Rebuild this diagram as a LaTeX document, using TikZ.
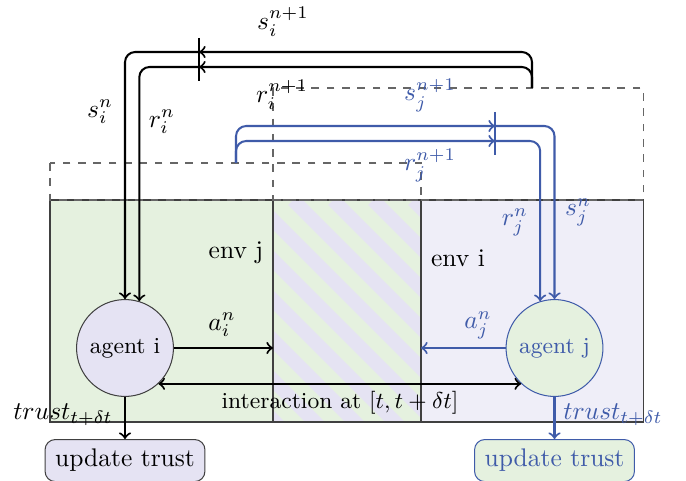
\documentclass[tikz,border=0pt]{standalone}
\usepackage{amsmath}
\usepackage{amssymb}
\usetikzlibrary{positioning, arrows}
\definecolor{envGreen}{RGB}{229,241,223}
\definecolor{envLav}{RGB}{229,227,243}
\definecolor{envLavLight}{RGB}{239,238,248}
\definecolor{agentBlue}{RGB}{63,91,169}
\tikzstyle{agentNode} = [circle, thin, draw=darkgray, minimum size=38pt,
   inner sep=0pt, font=\small]
\tikzstyle{trustBox} = [rectangle, thin, draw=darkgray, rounded corners=4pt,
   minimum width=62.7pt, minimum height=16.5pt, inner sep=0pt]
\tikzstyle{obsLine} = [->, rounded corners=4pt]
\tikzstyle{prevWindow} = [thin, dashed, gray!80!black]

\begin{document}
\begin{tikzpicture}[x=0.3922pt, y=-0.3922pt, thick, >=to]
	  \useasboundingbox (0,0) rectangle (686,481);

	  % environments
	  \fill[envGreen] (50,200) rectangle (273,422);
	  \fill[envLavLight] (421,200) rectangle (643,422);
	  \begin{scope}
	    \clip (273,200) rectangle (421,422);
	    \fill[envGreen] (273,200) rectangle (421,422);
	    \foreach \k in {-7,...,4}
	      \draw[envLav, line width=5.5pt] (293+40*\k,200) -- ++(300,300);
	  \end{scope}
	  \draw[thin, darkgray] (50,200) rectangle (643,422);
	  \draw[thin, darkgray] (273,200) -- (273,422) (421,200) -- (421,422);

	  % previous steps
	  \draw[prevWindow] (50,163) rectangle (421,200);
	  \draw[prevWindow] (273,88) rectangle (643,200);

	  \node[agentNode, fill=envLav] (ai) at (125,348) {agent i};
	  \node[agentNode, fill=envGreen, draw=agentBlue, text=agentBlue] (aj) at (554.5,348) {agent j};
	  \node[trustBox, fill=envLav, below=16.5pt of ai] (ti) {update trust};
	  \node[trustBox, fill=envGreen, draw=agentBlue, text=agentBlue, below=16.5pt of aj] (tj) {update trust};
	  \node (ej) at (236,253) {env j};
	  \node (ei) at (458,258) {env i};

	  \coordinate (iStart) at (532,88);
	  \coordinate (sBarI) at (199,52);
	  \coordinate (rBarI) at (199,67);
	  \coordinate (jStart) at (236,163);
	  \coordinate (sBarJ) at (495,126);
	  \coordinate (rBarJ) at (495,141);
	  \coordinate (midL) at (273,348);
	  \coordinate (midR) at (421,348);

	  % observations of agent i
	  \draw[obsLine] (iStart) |- (sBarI);
	  \draw[obsLine] (sBarI) -| (ai);
	  \draw[obsLine] (iStart) |- (rBarI);
	  \draw[obsLine] (rBarI) -| (ai.73);
	  \draw (199,38) -- (199,81);

	  % observations of agent j
	  \draw[obsLine, agentBlue] (jStart) |- (sBarJ);
	  \draw[obsLine, agentBlue] (sBarJ) -| (aj);
	  \draw[obsLine, agentBlue] (jStart) |- (rBarJ);
	  \draw[obsLine, agentBlue] (rBarJ) -| (aj.107);
	  \draw[agentBlue] (495,112) -- (495,155);

	  % actions
	  \draw[->] (ai) -- (midL);
	  \draw[->, agentBlue] (aj) -- (midR);
	  \draw[<->] (ai.-47) -- (aj.-133);
	  \draw[->] (ai) -- (ti);
	  \draw[->, agentBlue] (aj) -- (tj);

	  % labels
	  \node at (283,22) {$s_i^{n+1}$};
	  \node at (100,112) {$s_i^n$};
	  \node at (162,122) {$r_i^n$};
	  \node at (282,95) {$r_i^{n+1}$};
	  \node[text=agentBlue] at (430,95) {$s_j^{n+1}$};
	  \node[text=agentBlue] at (430,165) {$r_j^{n+1}$};
	  \node[text=agentBlue] at (515,222) {$r_j^n$};
	  \node[text=agentBlue] at (578,212) {$s_j^n$};
	  \node at (222,325) {$a_i^n$};
	  \node[text=agentBlue] at (478,325) {$a_j^n$};
	  \node[font=\small] at (340,403) {interaction at $[t,t+\delta t]$};
	  \node at (63,415) {$trust_{t+\delta t}$};
	  \node[text=agentBlue] at (613,415) {$trust_{t+\delta t}$};
	\end{tikzpicture}
\end{document}
